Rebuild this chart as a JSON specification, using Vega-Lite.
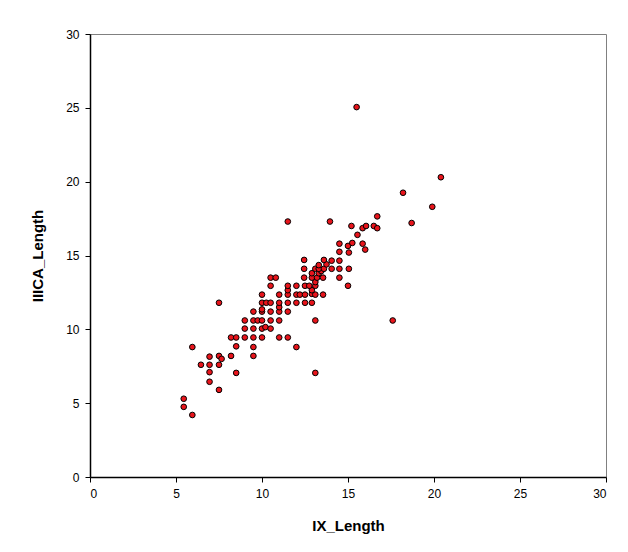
{
  "$schema": "https://vega.github.io/schema/vega-lite/v6.json",
  "width": 516,
  "height": 443,
  "autosize": {"type": "none"},
  "padding": {"left": 90, "top": 34, "right": 22, "bottom": 75},
  "background": "white",
  "config": {
    "view": {"stroke": "#808080", "strokeWidth": 1},
    "font": "Liberation Sans",
    "axis": {
      "domainColor": "#000000",
      "domainWidth": 1.5,
      "tickColor": "#000000",
      "tickSize": 5,
      "grid": false,
      "labelFont": "Liberation Sans",
      "labelFontSize": 12,
      "labelColor": "#000000",
      "titleFont": "Liberation Sans",
      "titleFontSize": 15,
      "titleFontWeight": "bold",
      "titleColor": "#000000"
    }
  },
  "data": {
    "values": [
      {"IX_Length": 5.95, "IIICA_Length": 4.2},
      {"IX_Length": 5.45, "IIICA_Length": 4.75},
      {"IX_Length": 5.45, "IIICA_Length": 5.3},
      {"IX_Length": 7.5, "IIICA_Length": 5.9},
      {"IX_Length": 6.95, "IIICA_Length": 6.45},
      {"IX_Length": 6.95, "IIICA_Length": 7.1},
      {"IX_Length": 8.5, "IIICA_Length": 7.05},
      {"IX_Length": 13.1, "IIICA_Length": 7.05},
      {"IX_Length": 6.45, "IIICA_Length": 7.6},
      {"IX_Length": 6.95, "IIICA_Length": 7.6},
      {"IX_Length": 7.5, "IIICA_Length": 7.6},
      {"IX_Length": 6.95, "IIICA_Length": 8.15},
      {"IX_Length": 7.5, "IIICA_Length": 8.2},
      {"IX_Length": 7.65, "IIICA_Length": 8.0},
      {"IX_Length": 8.2, "IIICA_Length": 8.2},
      {"IX_Length": 9.5, "IIICA_Length": 8.2},
      {"IX_Length": 5.95, "IIICA_Length": 8.8},
      {"IX_Length": 8.5, "IIICA_Length": 8.85},
      {"IX_Length": 9.5, "IIICA_Length": 8.8},
      {"IX_Length": 12.0, "IIICA_Length": 8.8},
      {"IX_Length": 8.2, "IIICA_Length": 9.45},
      {"IX_Length": 8.5, "IIICA_Length": 9.45},
      {"IX_Length": 9.0, "IIICA_Length": 9.45},
      {"IX_Length": 9.5, "IIICA_Length": 9.45},
      {"IX_Length": 10.0, "IIICA_Length": 9.45},
      {"IX_Length": 11.0, "IIICA_Length": 9.45},
      {"IX_Length": 11.5, "IIICA_Length": 9.45},
      {"IX_Length": 9.0, "IIICA_Length": 10.05},
      {"IX_Length": 9.5, "IIICA_Length": 10.05},
      {"IX_Length": 10.0, "IIICA_Length": 10.05},
      {"IX_Length": 10.2, "IIICA_Length": 10.15},
      {"IX_Length": 10.5, "IIICA_Length": 10.05},
      {"IX_Length": 9.0, "IIICA_Length": 10.6},
      {"IX_Length": 9.5, "IIICA_Length": 10.6},
      {"IX_Length": 9.75, "IIICA_Length": 10.6},
      {"IX_Length": 10.0, "IIICA_Length": 10.6},
      {"IX_Length": 10.5, "IIICA_Length": 10.6},
      {"IX_Length": 11.0, "IIICA_Length": 10.6},
      {"IX_Length": 13.1, "IIICA_Length": 10.6},
      {"IX_Length": 17.6, "IIICA_Length": 10.6},
      {"IX_Length": 9.5, "IIICA_Length": 11.2},
      {"IX_Length": 10.0, "IIICA_Length": 11.2},
      {"IX_Length": 10.0, "IIICA_Length": 11.35},
      {"IX_Length": 10.5, "IIICA_Length": 11.2},
      {"IX_Length": 11.0, "IIICA_Length": 11.2},
      {"IX_Length": 11.0, "IIICA_Length": 11.5},
      {"IX_Length": 11.5, "IIICA_Length": 11.2},
      {"IX_Length": 7.5, "IIICA_Length": 11.8},
      {"IX_Length": 10.0, "IIICA_Length": 11.8},
      {"IX_Length": 10.25, "IIICA_Length": 11.8},
      {"IX_Length": 10.5, "IIICA_Length": 11.8},
      {"IX_Length": 11.0, "IIICA_Length": 11.8},
      {"IX_Length": 11.5, "IIICA_Length": 11.8},
      {"IX_Length": 12.0, "IIICA_Length": 11.8},
      {"IX_Length": 12.5, "IIICA_Length": 11.8},
      {"IX_Length": 12.9, "IIICA_Length": 11.8},
      {"IX_Length": 10.0, "IIICA_Length": 12.35},
      {"IX_Length": 11.0, "IIICA_Length": 12.35},
      {"IX_Length": 11.5, "IIICA_Length": 12.35},
      {"IX_Length": 12.0, "IIICA_Length": 12.35},
      {"IX_Length": 12.2, "IIICA_Length": 12.35},
      {"IX_Length": 12.5, "IIICA_Length": 12.35},
      {"IX_Length": 12.9, "IIICA_Length": 12.4},
      {"IX_Length": 13.1, "IIICA_Length": 12.35},
      {"IX_Length": 13.55, "IIICA_Length": 12.35},
      {"IX_Length": 11.5, "IIICA_Length": 12.65},
      {"IX_Length": 12.9, "IIICA_Length": 12.65},
      {"IX_Length": 10.5, "IIICA_Length": 12.95},
      {"IX_Length": 11.5, "IIICA_Length": 12.95},
      {"IX_Length": 12.0, "IIICA_Length": 12.95},
      {"IX_Length": 12.5, "IIICA_Length": 12.95},
      {"IX_Length": 12.75, "IIICA_Length": 12.95},
      {"IX_Length": 13.1, "IIICA_Length": 12.95},
      {"IX_Length": 13.1, "IIICA_Length": 13.2},
      {"IX_Length": 15.0, "IIICA_Length": 12.95},
      {"IX_Length": 10.5, "IIICA_Length": 13.5},
      {"IX_Length": 10.8, "IIICA_Length": 13.5},
      {"IX_Length": 12.45, "IIICA_Length": 13.5},
      {"IX_Length": 12.9, "IIICA_Length": 13.5},
      {"IX_Length": 13.2, "IIICA_Length": 13.5},
      {"IX_Length": 13.55, "IIICA_Length": 13.5},
      {"IX_Length": 14.5, "IIICA_Length": 13.5},
      {"IX_Length": 12.9, "IIICA_Length": 13.8},
      {"IX_Length": 13.3, "IIICA_Length": 13.8},
      {"IX_Length": 13.45, "IIICA_Length": 13.95},
      {"IX_Length": 12.45, "IIICA_Length": 14.1},
      {"IX_Length": 13.1, "IIICA_Length": 14.1},
      {"IX_Length": 13.3, "IIICA_Length": 14.1},
      {"IX_Length": 13.6, "IIICA_Length": 14.1},
      {"IX_Length": 14.05, "IIICA_Length": 14.1},
      {"IX_Length": 14.5, "IIICA_Length": 14.1},
      {"IX_Length": 15.05, "IIICA_Length": 14.1},
      {"IX_Length": 13.3, "IIICA_Length": 14.35},
      {"IX_Length": 13.75, "IIICA_Length": 14.4},
      {"IX_Length": 12.45, "IIICA_Length": 14.7},
      {"IX_Length": 13.6, "IIICA_Length": 14.7},
      {"IX_Length": 14.05, "IIICA_Length": 14.65},
      {"IX_Length": 14.5, "IIICA_Length": 14.65},
      {"IX_Length": 14.5, "IIICA_Length": 15.25},
      {"IX_Length": 15.05, "IIICA_Length": 15.2},
      {"IX_Length": 16.0, "IIICA_Length": 15.4},
      {"IX_Length": 15.0, "IIICA_Length": 15.65},
      {"IX_Length": 14.5, "IIICA_Length": 15.8},
      {"IX_Length": 15.25, "IIICA_Length": 15.85},
      {"IX_Length": 15.85, "IIICA_Length": 15.8},
      {"IX_Length": 15.55, "IIICA_Length": 16.4},
      {"IX_Length": 15.2, "IIICA_Length": 17.0},
      {"IX_Length": 15.85, "IIICA_Length": 16.85},
      {"IX_Length": 16.05, "IIICA_Length": 17.0},
      {"IX_Length": 16.5, "IIICA_Length": 17.0},
      {"IX_Length": 16.7, "IIICA_Length": 16.85},
      {"IX_Length": 11.5, "IIICA_Length": 17.3},
      {"IX_Length": 13.95, "IIICA_Length": 17.3},
      {"IX_Length": 18.7, "IIICA_Length": 17.2},
      {"IX_Length": 16.7, "IIICA_Length": 17.65},
      {"IX_Length": 19.9, "IIICA_Length": 18.3},
      {"IX_Length": 18.2, "IIICA_Length": 19.25},
      {"IX_Length": 20.4, "IIICA_Length": 20.3},
      {"IX_Length": 15.5, "IIICA_Length": 25.05}
    ]
  },
  "mark": {"type": "point", "shape": "circle", "filled": true, "fill": "#e8141b", "stroke": "#000000", "strokeWidth": 1, "size": 32, "opacity": 1},
  "encoding": {
    "x": {
      "field": "IX_Length",
      "type": "quantitative",
      "title": "IX_Length",
      "scale": {"domain": [0, 30], "nice": false, "zero": true},
      "axis": {"values": [0, 5, 10, 15, 20, 25, 30], "labelPadding": 6, "titlePadding": 19}
    },
    "y": {
      "field": "IIICA_Length",
      "type": "quantitative",
      "title": "IIICA_Length",
      "scale": {"domain": [0, 30], "nice": false, "zero": true},
      "axis": {"values": [0, 5, 10, 15, 20, 25, 30], "labelPadding": 6, "titlePadding": 20}
    }
  }
}
